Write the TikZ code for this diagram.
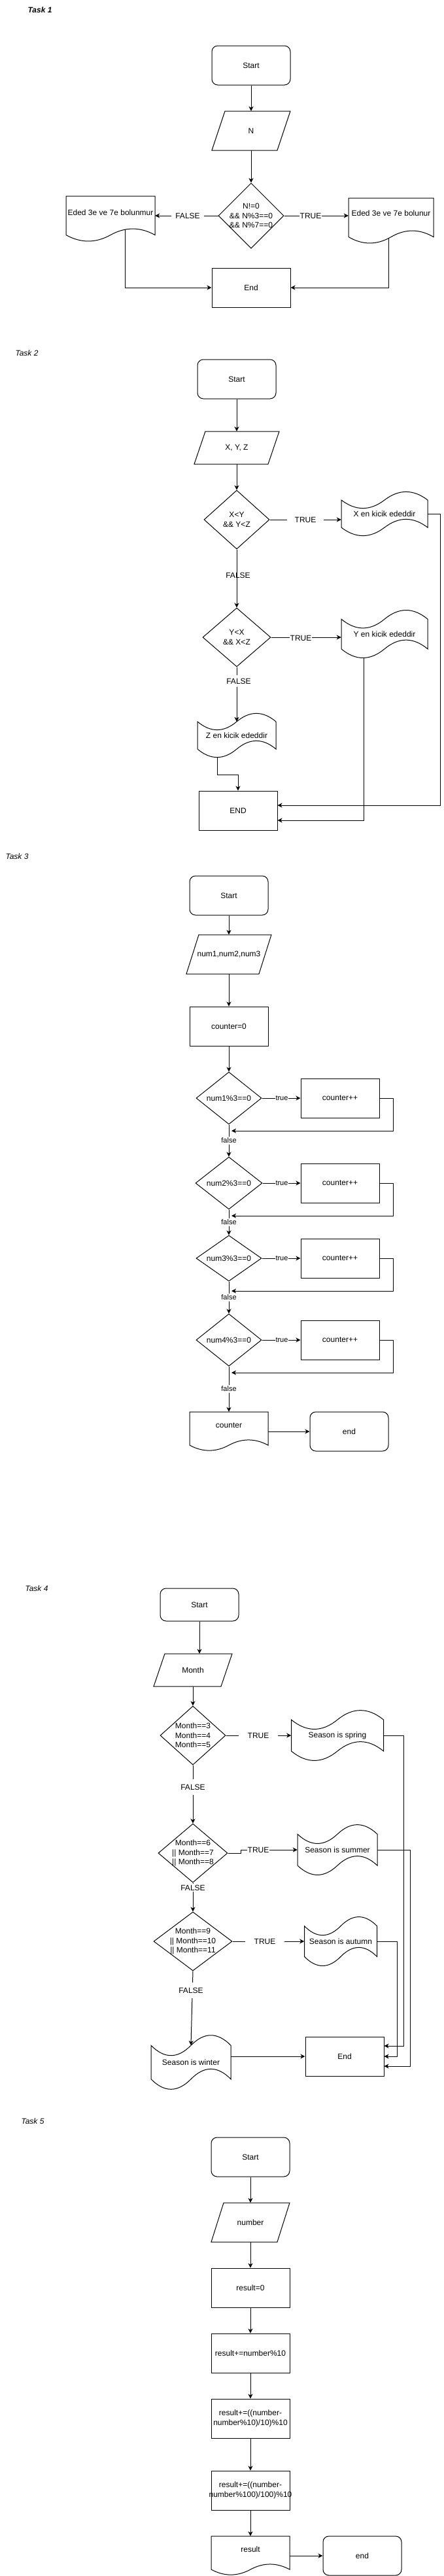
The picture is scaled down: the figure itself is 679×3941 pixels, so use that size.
\documentclass[tikz,border=0pt]{standalone}
\usepackage{fontspec}
\setmainfont{Liberation Sans}
\usetikzlibrary{arrows.meta,shapes.geometric}
\pgfdeclarelayer{back}
\pgfdeclarelayer{bg}
\pgfsetlayers{back,bg,main}
\tikzset{
 shp/.style={draw=black, line width=1pt, fill=white},
 proc/.style={shp, rectangle, minimum width=120pt, minimum height=60pt, inner sep=0pt, font=\fontsize{12}{14.4}\selectfont, align=center},
 term/.style={proc, rounded corners=9pt},
 dec/.style={shp, diamond, inner sep=0pt},
 txt/.style={inner sep=0pt, font=\fontsize{12}{14.4}\selectfont, align=center},
 lab/.style={txt, fill=white},
 slab/.style={inner sep=0.5pt, font=\fontsize{11}{13}\selectfont, fill=white},
 arr/.style={draw=black, line width=1pt, -{Stealth[length=7pt,width=7pt,inset=2pt]}},
 tasklab/.style={font=\fontsize{12}{14}\selectfont\itshape, inner sep=0pt},
}
% parallelogram: name cx cy w h skew text
\newcommand\mypara[7]{%
  \draw[shp] ({#2-#4/2+#6},{#3-#5/2}) -- ({#2+#4/2},{#3-#5/2}) -- ({#2+#4/2-#6},{#3+#5/2}) -- ({#2-#4/2},{#3+#5/2}) -- cycle;
  \node[txt, minimum width=#4pt, minimum height=#5pt] (#1) at (#2,#3) {#7};}
% document: name cx cy w h texty text
\newcommand\mydoc[7]{%
  \draw[shp] ({#2-#4/2},{#3-#5/2}) -- ({#2+#4/2},{#3-#5/2}) -- ({#2+#4/2},{#3+0.35*#5})
    .. controls ({#2+#4/3},{#3+0.17*#5}) and ({#2+#4/6},{#3+0.17*#5}) .. (#2,{#3+0.35*#5})
    .. controls ({#2-#4/6},{#3+0.53*#5}) and ({#2-#4/3},{#3+0.53*#5}) .. ({#2-#4/2},{#3+0.35*#5}) -- cycle;
  \node[inner sep=0pt, minimum width=#4pt, minimum height=#5pt] (#1) at (#2,#3) {};
  \node[txt] at (#2,#6) {#7};}
% tape: name cx cy w h text
\newcommand\mytape[6]{%
  \draw[shp] ({#2-#4/2},{#3-0.3*#5})
    .. controls ({#2-#4/3},{#3-0.06*#5}) and ({#2-#4/6},{#3-0.06*#5}) .. (#2,{#3-0.3*#5})
    .. controls ({#2+#4/6},{#3-0.54*#5}) and ({#2+#4/3},{#3-0.54*#5}) .. ({#2+#4/2},{#3-0.3*#5})
    -- ({#2+#4/2},{#3+0.3*#5})
    .. controls ({#2+#4/3},{#3+0.06*#5}) and ({#2+#4/6},{#3+0.06*#5}) .. (#2,{#3+0.3*#5})
    .. controls ({#2-#4/6},{#3+0.54*#5}) and ({#2-#4/3},{#3+0.54*#5}) .. ({#2-#4/2},{#3+0.3*#5}) -- cycle;
  \node[txt, minimum width=#4pt, minimum height=#5pt] (#1) at (#2,#3) {#6};}

\begin{document}
\begin{tikzpicture}[x=1pt,y=-1pt]
\begin{pgfonlayer}{back}
\fill[white] (0,0) rectangle (679,3941);
\end{pgfonlayer}
\useasboundingbox (0,0) rectangle (679,3941);

% ================= Task 1
\node[tasklab, font=\fontsize{12}{14}\selectfont\bfseries\itshape] (t1) at (61,15) {Task 1};
\node[term] (s1) at (384,100) {Start};
\mypara{n1}{384}{200}{120}{60}{20}{N}
\node[dec, minimum width=100pt, minimum height=100pt] (d1) at (384,330) {};
\node[txt] (d1t) at (d1) {N!=0\\\&\& N\%3==0\\\&\& N\%7==0};
\mydoc{ld1}{169}{335}{136}{70}{325}{Eded 3e ve 7e bolunmur}
\mydoc{rd1}{598}{338}{130}{70}{326}{Eded 3e ve 7e bolunur}
\node[proc] (e1) at (384,440) {End};
\node[lab, inner xsep=6.5pt, inner ysep=3pt] (f1) at (287,330) {FALSE};
\node[lab, inner sep=0.5pt] (tr1) at (475,330) {TRUE};
\begin{pgfonlayer}{bg}
\draw[arr] (s1) -- (n1);
\draw[arr] (n1) -- (d1);
\draw[arr] (d1.west) -- (d1.west -| ld1.east);
\draw[arr] (d1.east) -- (d1.east -| rd1.west);
\draw[arr] ([xshift=22pt]ld1.center) |- (e1.west);
\draw[arr] ([xshift=-4pt]rd1.center) |- (e1.east);
\end{pgfonlayer}

% ================= Task 2
\node[tasklab] (t2) at (41,540) {Task 2};
\node[term] (s2) at (362,580) {Start};
\mypara{p2}{362}{685}{130}{50}{17}{X, Y, Z}
\node[dec, minimum width=100pt, minimum height=90pt] (d2a) at (362,795) {};
\node[txt] (d2at) at (d2a) {X<Y\\\&\& Y<Z};
\mytape{xd2}{588}{786}{132}{70}{X en kicik ededdir}
\node[dec, minimum width=104pt, minimum height=90pt] (d2b) at (362,975) {};
\node[txt] (d2bt) at (d2b) {Y<X\\\&\& X<Z};
\mytape{yd2}{588}{970}{132}{76}{Y en kicik ededdir}
\mytape{zd2}{362}{1125}{120}{70}{Z en kicik ededdir}
\node[proc] (e2) at (364,1240) {END};
\node[lab, inner xsep=12pt, inner ysep=2pt] (tr2a) at (467,795) {TRUE};
\node[txt] (f2a) at (364,880) {FALSE};
\node[lab, inner sep=0.5pt] (tr2b) at (460,976) {TRUE};
\node[lab, inner xsep=1pt, inner ysep=5pt] (f2b) at (365,1042) {FALSE};
\coordinate (x2c) at (673,1232);
\coordinate (z2c) at (364,1185);
\begin{pgfonlayer}{bg}
\draw[arr] (s2) -- (p2);
\draw[arr] (p2) -- (d2a);
\draw[arr] (d2a.east) -- (d2a.east -| xd2.west);
\draw[arr] (d2a) -- (d2b);
\draw[arr] (d2b.east) -- (d2b.east -| yd2.west);
\draw[arr] (d2b.south) -- ([yshift=21pt]zd2.center);
\draw[arr] (xd2.east) -| (x2c) -- ([yshift=8pt]e2.east);
\draw[arr] ([xshift=-32pt]yd2.center) |- ([yshift=-15pt]e2.east);
\draw[arr] ([xshift=-30pt]zd2.center) |- (z2c) -- (e2.north);
\end{pgfonlayer}

% ================= Task 3
\node[tasklab] (t3) at (26,1310) {Task 3};
\node[term] (s3) at (350,1370) {Start};
\mypara{p3}{350}{1460}{130}{60}{19}{num1,num2,num3}
\node[proc] (c3) at (350,1570) {counter=0};
\node[dec, minimum width=100pt, minimum height=80pt] (d31) at (350,1680) {};
\node[txt] (d31t) at (d31) {num1\%3==0};
\node[proc] (k31) at (520,1680) {counter++};
\node[dec, minimum width=102pt, minimum height=80pt] (d32) at (350,1810) {};
\node[txt] (d32t) at (d32) {num2\%3==0};
\node[proc] (k32) at (520,1810) {counter++};
\node[dec, minimum width=100pt, minimum height=70pt] (d33) at (350,1925) {};
\node[txt] (d33t) at (d33) {num3\%3==0};
\node[proc] (k33) at (520,1925) {counter++};
\node[dec, minimum width=100pt, minimum height=80pt] (d34) at (350,2050) {};
\node[txt] (d34t) at (d34) {num4\%3==0};
\node[proc] (k34) at (520,2050) {counter++};
\mydoc{cd3}{350}{2190}{120}{60}{2181}{counter}
\node[term] (e3) at (534,2190) {end};
\node[slab] (tr31) at (431,1680) {true};
\node[slab] (tr32) at (431,1810) {true};
\node[slab] (tr33) at (431,1925) {true};
\node[slab] (tr34) at (431,2050) {true};
\node[slab, inner ysep=2pt] (f31) at (350,1745) {false};
\node[slab, inner ysep=2pt] (f32) at (350,1870) {false};
\node[slab, inner ysep=2pt] (f33) at (350,1985) {false};
\node[slab, inner ysep=2pt] (f34) at (350,2125) {false};
\coordinate (r31) at (601,1730); \coordinate (m31) at (354,1730);
\coordinate (r32) at (601,1860); \coordinate (m32) at (354,1860);
\coordinate (r33) at (601,1975); \coordinate (m33) at (354,1975);
\coordinate (r34) at (601,2100); \coordinate (m34) at (354,2100);
\begin{pgfonlayer}{bg}
\draw[arr] (s3) -- (p3);
\draw[arr] (p3) -- (c3);
\draw[arr] (c3) -- (d31);
\draw[arr] (d31) -- (d32);
\draw[arr] (d32) -- (d33);
\draw[arr] (d33) -- (d34);
\draw[arr] (d34.south) -- (cd3.north);
\draw[arr] (d31.east) -- (k31.west);
\draw[arr] (d32.east) -- (k32.west);
\draw[arr] (d33.east) -- (k33.west);
\draw[arr] (d34.east) -- (k34.west);
\draw[arr] (k31.east) -| (r31) -- (m31);
\draw[arr] (k32.east) -| (r32) -- (m32);
\draw[arr] (k33.east) -| (r33) -- (m33);
\draw[arr] (k34.east) -| (r34) -- (m34);
\draw[arr] (cd3.east) -- (e3.west);
\end{pgfonlayer}

% ================= Task 4
\node[tasklab] (t4) at (56,2430) {Task 4};
\node[term, minimum height=50pt] (s4) at (305,2455) {Start};
\mypara{p4}{295}{2555}{120}{50}{17}{Month}
\node[dec, minimum width=100pt, minimum height=90pt] (d41) at (295,2655) {};
\node[txt] (d41t) at (d41) {Month==3\\Month==4\\Month==5};
\mytape{sp4}{516}{2655}{141}{80}{Season is spring}
\node[lab, inner xsep=1pt, inner ysep=2pt] (f42) at (295,2888) {FALSE};
\node[dec, minimum width=106pt, minimum height=90pt] (d42) at (295,2835) {};
\node[txt] (d42t) at (d42) {Month==6\\|| Month==7\\|| Month==8};
\mytape{su4}{516}{2830}{122}{80}{Season is summer}
\node[dec, minimum width=120pt, minimum height=90pt] (d43) at (295,2970) {};
\node[txt] (d43t) at (d43) {Month==9\\|| Month==10\\|| Month==11};
\mytape{au4}{521}{2970}{111}{78}{Season is autumn}
\mytape{wi4}{292}{3155}{122}{86}{Season is winter}
\node[proc] (e4) at (527,3146) {End};
\node[lab, inner xsep=14pt, inner ysep=2pt] (tr41) at (395,2655) {TRUE};
\node[lab, inner xsep=1pt, inner ysep=8pt] (f41) at (295,2734) {FALSE};
\node[lab, inner sep=1pt] (tr42) at (395,2830) {TRUE};
\node[lab, inner xsep=14pt, inner ysep=2pt] (tr43) at (405,2970) {TRUE};
\node[lab, inner xsep=1pt, inner ysep=8pt] (f43) at (292,3045) {FALSE};
\coordinate (j42) at (368,2835);
\coordinate (spc) at (617,3130);
\coordinate (suc) at (627,3161);
\coordinate (auc) at (607,3146);
\begin{pgfonlayer}{bg}
\draw[arr] (s4.south) -- (s4.south |- p4.north);
\draw[arr] (p4) -- (d41);
\draw[arr] (d41.east) -- (d41.east -| sp4.west);
\draw[arr] (d41) -- (d42);
\draw[arr] (d42.east) -- (j42) |- (su4.west);
\draw[arr] (d42) -- (d43);
\draw[arr] (d43.east) -- (d43.east -| au4.west);
\draw[arr] (d43.south) -- ([yshift=26pt]wi4.center);
\draw[arr] ([yshift=9pt]wi4.east) -- (e4.west);
\draw[arr] (sp4.east) -| (spc) -- ([yshift=16pt]e4.east);
\draw[arr] (su4.east) -| (suc) -- ([yshift=-15pt]e4.east);
\draw[arr] (au4.east) -| (auc) -- (e4.east);
\end{pgfonlayer}

% ================= Task 5
\node[tasklab] (t5) at (50,3245) {Task 5};
\node[term] (s5) at (383,3300) {Start};
\mypara{p5}{383}{3400}{120}{60}{19}{number}
\node[proc] (r50) at (383,3500) {result=0};
\node[proc] (r51) at (383,3600) {result+=number\%10};
\node[proc] (r52) at (383,3700) {};
\node[txt] (r52t) at (r52) {result+=((number-\\number\%10)/10)\%10};
\node[proc] (r53) at (383,3810) {};
\node[txt] (r53t) at (r53) {result+=((number-\\number\%100)/100)\%10};
\mydoc{rd5}{383}{3910}{120}{60}{3900}{result}
\node[term] (e5) at (554,3910) {end};
\begin{pgfonlayer}{bg}
\draw[arr] (s5) -- (p5);
\draw[arr] (p5) -- (r50);
\draw[arr] (r50) -- (r51);
\draw[arr] (r51) -- (r52);
\draw[arr] (r52) -- (r53);
\draw[arr] (r53.south) -- (rd5.north);
\draw[arr] (rd5.east) -- (e5.west);
\end{pgfonlayer}
\end{tikzpicture}
\end{document}
